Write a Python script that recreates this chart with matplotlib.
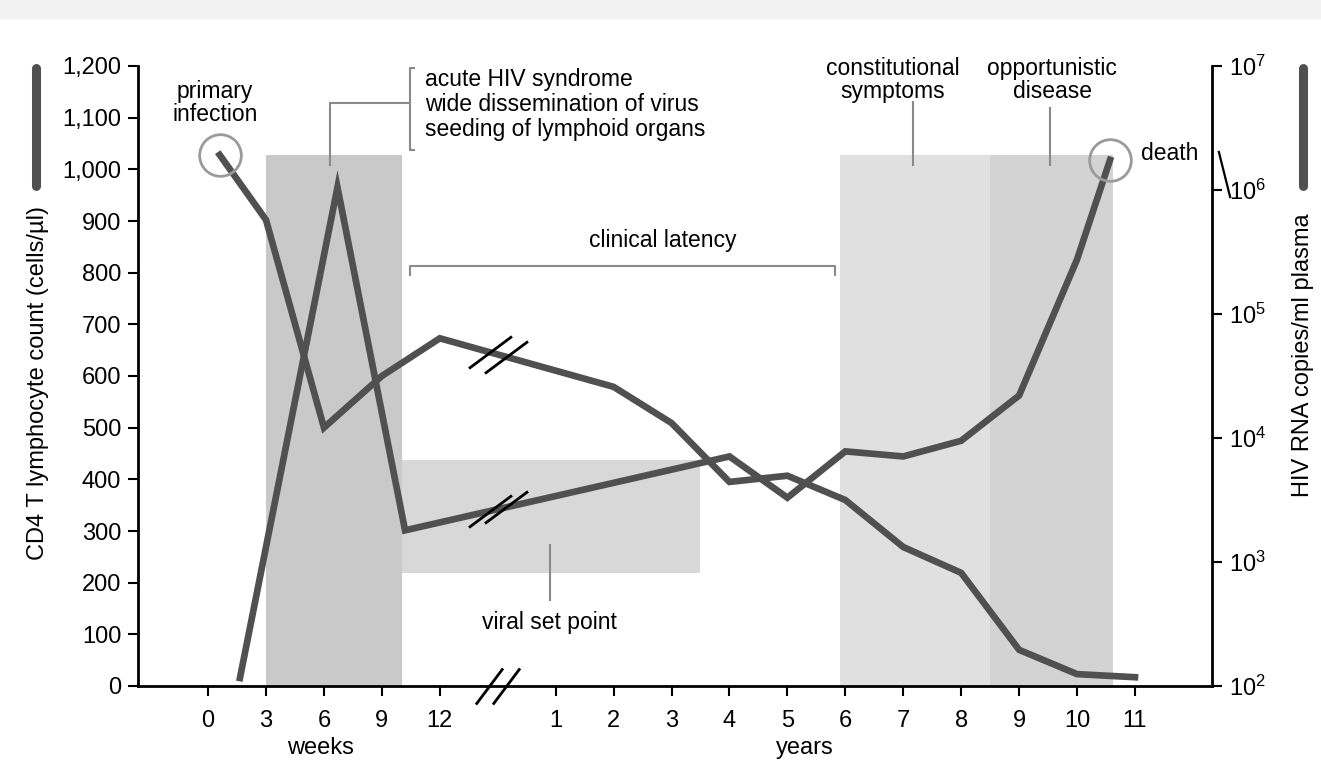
"""
HIV infection course: CD4 count vs. viral load
"""

import numpy as np
import matplotlib
matplotlib.use('Agg')
import matplotlib.pyplot as plt
from matplotlib.path import Path
from matplotlib.lines import Line2D
from matplotlib.patches import Rectangle

plt.rcParams['font.family'] = ['Liberation Sans Narrow', 'Liberation Sans', 'DejaVu Sans']
plt.rcParams['mathtext.default'] = 'regular'

# CD4 T cell count (cells/ul) - early part in weeks, later part in years
cd4_weeks = [0.6, 3, 6, 9, 12]
cd4_weeks_vals = [1028, 902, 500, 600, 673]
cd4_years = [2, 3, 4, 5, 6, 7, 8, 9, 10, 11]
cd4_years_vals = [579, 509, 395, 407, 360, 269, 219, 70, 23, 17]

# HIV RNA copies/ml plasma
vl_weeks = [1.65, 6.7, 10.2]
vl_weeks_vals = [116, 1.05e6, 1800]
vl_years = [4, 5, 6, 7, 8, 9, 10, 10.57]
vl_years_vals = [7100, 3300, 7800, 7100, 9500, 22000, 275000, 1.75e6]

week_ticks = [0, 3, 6, 9, 12]
year_ticks = [1, 2, 3, 4, 5, 6, 7, 8, 9, 10, 11]
left_ticks = list(range(0, 1201, 100))
right_ticks = [1e2, 1e3, 1e4, 1e5, 1e6, 1e7]

# shaded phases: (start, end, bottom, top, colour); x in ('w'|'y', value)
phases = [
    (('w', 3), ('w', 10.05), 0, 1028, '#c9c9c9'),
    (('w', 10.05), ('y', 3.49), 219, 437, '#d8d8d8'),
    (('y', 5.9), ('y', 8.5), 0, 1028, '#e0e0e0'),
    (('y', 8.5), ('y', 10.62), 0, 1028, '#d3d3d3'),
]


def pos(unit, v):
    # weeks map to 0..4, break at 5, years 1..11 map to 6..16
    v = np.asarray(v, dtype=float)
    return v / 3.0 if unit == 'w' else 5 + v


LINE = '#505050'
GREY = '#8a8a8a'

fig = plt.figure(figsize=(13.21, 7.63), dpi=100)
fig.patches.append(Rectangle((0, 1 - 18 / 763), 1, 18 / 763, transform=fig.transFigure,
                             color='#f2f2f2', zorder=-10))
ax = fig.add_axes([138 / 1321, 77 / 763, (1212 - 138) / 1321, 620 / 763])
ax2 = ax.twinx()

ax.set_xlim(-1.21, 17.33)
ax.set_ylim(0, 1200)
ax2.set_yscale('log')
ax2.set_ylim(1e2, 1e7)

for (u0, x0), (u1, x1), b, t, c in phases:
    p0, p1 = pos(u0, x0), pos(u1, x1)
    ax.add_patch(Rectangle((p0, b), p1 - p0, t - b, color=c, lw=0, zorder=1))

cd4_x = np.concatenate([pos('w', cd4_weeks), pos('y', cd4_years)])
cd4_y = np.array(cd4_weeks_vals + cd4_years_vals, dtype=float)
vl_x = np.concatenate([pos('w', vl_weeks), pos('y', vl_years)])
vl_y = np.array(vl_weeks_vals + vl_years_vals, dtype=float)

ax.plot(cd4_x, cd4_y, color=LINE, lw=4.8, solid_joinstyle='miter', zorder=5)
ax2.plot(vl_x, vl_y, color=LINE, lw=4.8, solid_joinstyle='miter', zorder=5)

# break marks "//"
slash = Path([(-43, -32), (43, 32)], [Path.MOVETO, Path.LINETO])
for dx in (-0.14, 0.14):
    px = 5 + dx
    ax.plot(px, np.interp(px, cd4_x, cd4_y), marker=slash, ms=31, mew=2, color='black', zorder=6)
    ax2.plot(px, 10 ** np.interp(px, vl_x, np.log10(vl_y)), marker=slash, ms=31, mew=2,
             color='black', zorder=6)
axis_slash = Path([(-27, -36), (27, 36)], [Path.MOVETO, Path.LINETO])
for dx in (-0.15, 0.15):
    ax.plot(5 + dx, 0, marker=axis_slash, ms=26, mew=2, color='black', clip_on=False, zorder=7)
back_slash = Path([(-12, 48), (12, -48)], [Path.MOVETO, Path.LINETO])
ax2.plot(17.53, 10 ** 6.13, marker=back_slash, ms=34, mew=1.6, color='black', clip_on=False)

# circles at primary infection and death
ax.plot(cd4_x[0], cd4_y[0], 'o', ms=30, mfc='none', mec='#9a9a9a', mew=2, zorder=6, clip_on=False)
ax2.plot(vl_x[-1], vl_y[-1], 'o', ms=30, mfc='none', mec='#9a9a9a', mew=2, zorder=6, clip_on=False)

# spines and ticks
for a in (ax, ax2):
    a.spines['top'].set_visible(False)
ax.spines['right'].set_visible(False)
ax2.spines['left'].set_visible(False)
ax2.spines['bottom'].set_visible(False)
for s in ('left', 'bottom'):
    ax.spines[s].set_linewidth(2)
ax2.spines['right'].set_linewidth(2)

ax.set_yticks(left_ticks)
ax.set_yticklabels([f'{v:,}' for v in left_ticks])
ax.set_xticks(np.concatenate([pos('w', week_ticks), pos('y', year_ticks)]))
ax.set_xticklabels([str(v) for v in week_ticks + year_ticks])
ax.tick_params(axis='both', labelsize=17, length=7, width=1.5, colors='black')
ax.tick_params(axis='x', pad=10)
ax.tick_params(axis='y', pad=5)
ax2.set_yticks(right_ticks)
ax2.set_yticklabels([f'$10^{{{int(np.log10(v))}}}$' for v in right_ticks])
ax2.yaxis.set_minor_locator(matplotlib.ticker.NullLocator())
ax2.tick_params(axis='y', labelsize=17, length=7, width=1.5, pad=5)

ax.text(pos('w', 5.8), -0.1, 'weeks', transform=ax.get_xaxis_transform(), ha='center',
        va='center', fontsize=17)
ax.text(pos('y', 5.3), -0.1, 'years', transform=ax.get_xaxis_transform(), ha='center',
        va='center', fontsize=17)

# axis titles with swatches
fig.text(38 / 1321, 0.498, 'CD4 T lymphocyte count (cells/µl)', rotation=90, ha='center',
         va='center', fontsize=17)
fig.text(1303 / 1321, 0.535, 'HIV RNA copies/ml plasma', rotation=90, ha='center',
         va='center', fontsize=17)
for x in (36, 1303):
    fig.add_artist(Line2D([x / 1321, x / 1321], [1 - 68 / 763, 1 - 186 / 763], color=LINE,
                          lw=6.5, solid_capstyle='round'))

# annotations
TS = 16.5
ax.text(0.12, 1128, 'primary\ninfection', ha='center', va='center', fontsize=TS, linespacing=1.0)
ax.text(16.1, 1030, 'death', ha='left', va='center', fontsize=TS)

br = dict(color=GREY, lw=1.5, clip_on=False, zorder=4)
ax.plot([3.55, 3.49, 3.49, 3.55], [1196, 1196, 1037, 1037], **br)
ax.plot([2.1, 2.1, 3.49], [1008, 1128, 1128], **br)
ax.text(3.75, 1196, 'acute HIV syndrome\nwide dissemination of virus\nseeding of lymphoid organs',
        ha='left', va='top', fontsize=TS, linespacing=1.1)

ax.plot([3.49, 3.49, 10.82, 10.82], [795, 813, 813, 795], **br)
ax.text(7.85, 863, 'clinical latency', ha='center', va='center', fontsize=TS)

ax.plot([5.9, 5.9], [273, 166], **br)
ax.text(5.9, 122, 'viral set point', ha='center', va='center', fontsize=TS)

ax.plot([12.17, 12.17], [1130, 1008], **br)
ax.text(11.82, 1173, 'constitutional\nsymptoms', ha='center', va='center', fontsize=TS,
        linespacing=1.0)
ax.plot([14.53, 14.53], [1118, 1008], **br)
ax.text(14.57, 1173, 'opportunistic\ndisease', ha='center', va='center', fontsize=TS,
        linespacing=1.0)

fig.savefig('out.png', dpi=100)
